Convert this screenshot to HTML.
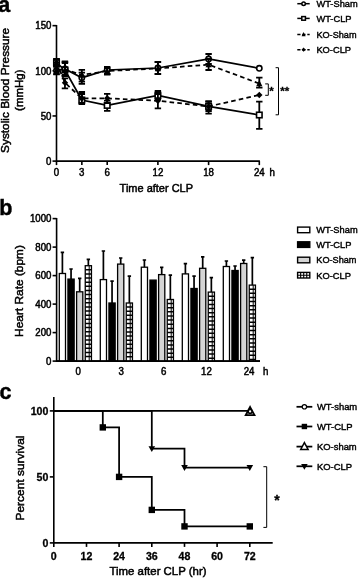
<!DOCTYPE html>
<html><head><meta charset="utf-8"><title>Figure</title>
<style>
html,body{margin:0;padding:0;background:#fff;}
body{width:358px;height:579px;overflow:hidden;font-family:"Liberation Sans",sans-serif;}
svg{display:block;filter:grayscale(1);}
text{font-family:"Liberation Sans",sans-serif;fill:#000;stroke:#000;stroke-width:0.42px;}
.ttl{stroke-width:0.5px;}
.tk{stroke-width:0.5px;}
.bt{stroke-width:0.3px;}
.ax{stroke:#000;stroke-width:1.6;fill:none;}
.eb2{stroke:#000;stroke-width:1.7;fill:none;}
.eb{stroke:#000;stroke-width:1.8;fill:none;}
.ln{stroke:#000;stroke-width:1.75;fill:none;}
.ln2{stroke:#000;stroke-width:1.75;fill:none;}
.br{stroke:#000;stroke-width:1.0;fill:none;}
</style></head><body>
<svg width="358" height="579" viewBox="0 0 358 579">
<rect width="358" height="579" fill="#fff"/>
<g id="pa">
<text x="-1.8" y="12.1" font-size="21.5" text-anchor="start" font-weight="bold" >a</text>
<path d="M56.5,25.049999999999976 V161.1 H259.9" class="ax"/>
<path d="M52.5,161.1 H56.5" class="ax"/>
<text transform="translate(51.4,164.8) scale(0.93,1)" font-size="10.4" text-anchor="end"  class="tk">0</text>
<path d="M52.5,115.94999999999999 H56.5" class="ax"/>
<text transform="translate(51.4,119.6) scale(0.93,1)" font-size="10.4" text-anchor="end"  class="tk">50</text>
<path d="M52.5,70.8 H56.5" class="ax"/>
<text transform="translate(51.4,74.5) scale(0.93,1)" font-size="10.4" text-anchor="end"  class="tk">100</text>
<path d="M52.5,25.649999999999977 H56.5" class="ax"/>
<text transform="translate(51.4,29.3) scale(0.93,1)" font-size="10.4" text-anchor="end"  class="tk">150</text>
<path d="M56.5,161.1 V165.1" class="ax"/>
<text transform="translate(56.5,176.4) scale(0.93,1)" font-size="10.4" text-anchor="middle"  class="tk">0</text>
<path d="M81.85,161.1 V165.1" class="ax"/>
<text transform="translate(81.8,176.4) scale(0.93,1)" font-size="10.4" text-anchor="middle"  class="tk">3</text>
<path d="M107.19999999999999,161.1 V165.1" class="ax"/>
<text transform="translate(107.2,176.4) scale(0.93,1)" font-size="10.4" text-anchor="middle"  class="tk">6</text>
<path d="M157.89999999999998,161.1 V165.1" class="ax"/>
<text transform="translate(157.9,176.4) scale(0.93,1)" font-size="10.4" text-anchor="middle"  class="tk">12</text>
<path d="M208.6,161.1 V165.1" class="ax"/>
<text transform="translate(208.6,176.4) scale(0.93,1)" font-size="10.4" text-anchor="middle"  class="tk">18</text>
<path d="M259.29999999999995,161.1 V165.1" class="ax"/>
<text transform="translate(259.3,176.4) scale(0.93,1)" font-size="10.4" text-anchor="middle"  class="tk">24</text>
<text transform="translate(272.3,176.4) scale(0.93,1)" font-size="10.4" text-anchor="middle"  class="tk">h</text>
<text class="ttl" x="156.3" y="192.2" font-size="11.5" text-anchor="middle" textLength="73.4" lengthAdjust="spacingAndGlyphs">Time after CLP</text>
<text class="ttl" transform="translate(8.9,90.4) rotate(-90)" font-size="11.75" text-anchor="middle" textLength="125" lengthAdjust="spacingAndGlyphs">Systolic Blood Pressure</text>
<text class="ttl" transform="translate(22.6,90.2) rotate(-90)" font-size="11.75" text-anchor="middle" textLength="41.5" lengthAdjust="spacingAndGlyphs">(mmHg)</text>
<path d="M56.5,66 V74.3 M53.30,66 H59.70 M53.30,74.3 H59.70" class="eb"/>
<path d="M64.95,61.5 V76 M61.75,61.5 H68.15 M61.75,76 H68.15" class="eb"/>
<path d="M81.85,69.9 V83.8 M78.65,69.9 H85.05 M78.65,83.8 H85.05" class="eb"/>
<path d="M107.19999999999999,67 V74 M104.00,67 H110.40 M104.00,74 H110.40" class="eb"/>
<path d="M157.89999999999998,62 V74 M154.70,62 H161.10 M154.70,74 H161.10" class="eb"/>
<path d="M208.6,54 V64 M205.40,54 H211.80 M205.40,64 H211.80" class="eb"/>
<path d="M56.5,70.5 L65.0,69 L81.8,77.7 L107.2,70 L157.9,68 L208.6,59 L259.3,68.3" class="ln" />
<circle cx="56.5" cy="70.5" r="2.65" fill="#fff" stroke="#000" stroke-width="1.6"/>
<circle cx="65.0" cy="69" r="2.65" fill="#fff" stroke="#000" stroke-width="1.6"/>
<circle cx="81.8" cy="77.7" r="2.65" fill="#fff" stroke="#000" stroke-width="1.6"/>
<circle cx="107.2" cy="70" r="2.65" fill="#fff" stroke="#000" stroke-width="1.6"/>
<circle cx="157.9" cy="68" r="2.65" fill="#fff" stroke="#000" stroke-width="1.6"/>
<circle cx="208.6" cy="59" r="2.65" fill="#fff" stroke="#000" stroke-width="1.6"/>
<circle cx="259.3" cy="68.3" r="2.65" fill="#fff" stroke="#000" stroke-width="1.6"/>
<path d="M56.5,59 V66.5 M53.30,59 H59.70 M53.30,66.5 H59.70" class="eb"/>
<path d="M64.95,63 V76 M61.75,63 H68.15 M61.75,76 H68.15" class="eb"/>
<path d="M81.85,94 V104 M78.65,94 H85.05 M78.65,104 H85.05" class="eb"/>
<path d="M107.19999999999999,100.6 V110.8 M104.00,100.6 H110.40 M104.00,110.8 H110.40" class="eb"/>
<path d="M157.89999999999998,91 V99 M154.70,91 H161.10 M154.70,99 H161.10" class="eb"/>
<path d="M208.6,101.5 V111 M205.40,101.5 H211.80 M205.40,111 H211.80" class="eb"/>
<path d="M259.29999999999995,101.6 V128.8 M256.10,101.6 H262.50 M256.10,128.8 H262.50" class="eb"/>
<path d="M56.5,62.8 L65.0,70 L81.8,100 L107.2,105.4 L157.9,95.3 L208.6,106.4 L259.3,115" class="ln" />
<rect x="53.75" y="60.05" width="5.50" height="5.50" fill="#fff" stroke="#000" stroke-width="1.6"/>
<rect x="62.25" y="67.25" width="5.50" height="5.50" fill="#fff" stroke="#000" stroke-width="1.6"/>
<rect x="79.05" y="97.25" width="5.50" height="5.50" fill="#fff" stroke="#000" stroke-width="1.6"/>
<rect x="104.45" y="102.65" width="5.50" height="5.50" fill="#fff" stroke="#000" stroke-width="1.6"/>
<rect x="155.15" y="92.55" width="5.50" height="5.50" fill="#fff" stroke="#000" stroke-width="1.6"/>
<rect x="205.85" y="103.65" width="5.50" height="5.50" fill="#fff" stroke="#000" stroke-width="1.6"/>
<rect x="256.55" y="112.25" width="5.50" height="5.50" fill="#fff" stroke="#000" stroke-width="1.6"/>
<path d="M56.5,65 V74 M53.30,65 H59.70 M53.30,74 H59.70" class="eb"/>
<path d="M64.95,62 V75 M61.75,62 H68.15 M61.75,75 H68.15" class="eb"/>
<path d="M81.85,72.7 V81.6 M78.65,72.7 H85.05 M78.65,81.6 H85.05" class="eb"/>
<path d="M107.19999999999999,68 V74.5 M104.00,68 H110.40 M104.00,74.5 H110.40" class="eb"/>
<path d="M157.89999999999998,62 V74 M154.70,62 H161.10 M154.70,74 H161.10" class="eb"/>
<path d="M208.6,59 V70 M205.40,59 H211.80 M205.40,70 H211.80" class="eb"/>
<path d="M259.29999999999995,77.6 V87.6 M256.10,77.6 H262.50 M256.10,87.6 H262.50" class="eb"/>
<path d="M56.5,70 L65.0,69.5 L81.8,75 L107.2,71 L157.9,68.5 L208.6,64.6 L259.3,83.6" class="ln" stroke-dasharray="4.6 3.2"/>
<path d="M56.5,66.50 L59.60,72.70 H53.40 Z" fill="#000"/>
<path d="M65.0,66.00 L68.10,72.20 H61.90 Z" fill="#000"/>
<path d="M81.8,71.50 L84.90,77.70 H78.70 Z" fill="#000"/>
<path d="M107.2,67.50 L110.30,73.70 H104.10 Z" fill="#000"/>
<path d="M157.9,65.00 L161.00,71.20 H154.80 Z" fill="#000"/>
<path d="M208.6,61.10 L211.70,67.30 H205.50 Z" fill="#000"/>
<path d="M259.3,80.10 L262.40,86.30 H256.20 Z" fill="#000"/>
<path d="M56.5,59 V66.5 M53.30,59 H59.70 M53.30,66.5 H59.70" class="eb"/>
<path d="M64.95,78.3 V88.3 M61.75,78.3 H68.15 M61.75,88.3 H68.15" class="eb"/>
<path d="M81.85,92 V103.5 M78.65,92 H85.05 M78.65,103.5 H85.05" class="eb"/>
<path d="M107.19999999999999,93.9 V103 M104.00,93.9 H110.40 M104.00,103 H110.40" class="eb"/>
<path d="M157.89999999999998,94 V108.4 M154.70,94 H161.10 M154.70,108.4 H161.10" class="eb"/>
<path d="M208.6,101.5 V113.7 M205.40,101.5 H211.80 M205.40,113.7 H211.80" class="eb"/>
<path d="M56.5,62.8 L65.0,82.7 L81.8,98.5 L107.2,98.3 L157.9,100.8 L208.6,106.4 L259.3,95" class="ln" stroke-dasharray="4.6 3.2"/>
<path d="M56.5,59.60 L59.70,62.8 L56.5,66.00 L53.30,62.8 Z" fill="#000"/>
<path d="M65.0,79.50 L68.20,82.7 L65.0,85.90 L61.80,82.7 Z" fill="#000"/>
<path d="M81.8,95.30 L85.00,98.5 L81.8,101.70 L78.60,98.5 Z" fill="#000"/>
<path d="M107.2,95.10 L110.40,98.3 L107.2,101.50 L104.00,98.3 Z" fill="#000"/>
<path d="M157.9,97.60 L161.10,100.8 L157.9,104.00 L154.70,100.8 Z" fill="#000"/>
<path d="M208.6,103.20 L211.80,106.4 L208.6,109.60 L205.40,106.4 Z" fill="#000"/>
<path d="M259.3,91.80 L262.50,95 L259.3,98.20 L256.10,95 Z" fill="#000"/>
<path d="M265.2,83.9 H268.3 V95.3 H265.2" class="br"/>
<path d="M275.6,67.7 H278.5 V114.8 H275.6" class="br"/>
<text x="271.6" y="95.0" font-size="11.5" text-anchor="middle" font-weight="bold" class="bt">*</text>
<text x="284.7" y="95.0" font-size="11.5" text-anchor="middle" font-weight="bold" class="bt">**</text>
<path d="M297.3,3.7 H309.7" class="ln" style="stroke-width:1.5" />
<circle cx="303.6" cy="3.7" r="1.75" fill="#fff" stroke="#000" stroke-width="1.5"/>
<text transform="translate(316.4,7.0) scale(0.95,1)" font-size="9.8" text-anchor="start"  >WT-Sham</text>
<path d="M297.3,18.4 H309.7" class="ln" style="stroke-width:1.5" />
<rect x="301.79" y="16.58" width="3.63" height="3.63" fill="#fff" stroke="#000" stroke-width="1.5"/>
<text transform="translate(316.4,21.7) scale(0.95,1)" font-size="9.8" text-anchor="start"  >WT-CLP</text>
<path d="M297.3,34.4 H309.7" class="ln" style="stroke-width:1.5" stroke-dasharray="3.2 1.8"/>
<path d="M303.6,32.09 L305.65,36.18 H301.55 Z" fill="#000"/>
<text transform="translate(316.4,37.699999999999996) scale(0.935,1)" font-size="9.8" text-anchor="start"  >KO-Sham</text>
<path d="M297.3,49.7 H309.7" class="ln" style="stroke-width:1.5" stroke-dasharray="3.2 1.8"/>
<path d="M303.6,47.59 L305.71,49.7 L303.6,51.81 L301.49,49.7 Z" fill="#000"/>
<text transform="translate(316.4,53.0) scale(0.95,1)" font-size="9.8" text-anchor="start"  >KO-CLP</text>
</g>
<g id="pb">
<text x="-0.7" y="215.4" font-size="21.5" text-anchor="start" font-weight="bold" >b</text>
<path d="M56.6,218.00000000000003 V361.1 H260" class="ax"/>
<path d="M52.6,361.1 H56.6" class="ax"/>
<text transform="translate(51.4,364.8) scale(0.93,1)" font-size="10.4" text-anchor="end"  class="tk">0</text>
<path d="M52.6,332.6 H56.6" class="ax"/>
<text transform="translate(51.4,336.3) scale(0.93,1)" font-size="10.4" text-anchor="end"  class="tk">200</text>
<path d="M52.6,304.1 H56.6" class="ax"/>
<text transform="translate(51.4,307.8) scale(0.93,1)" font-size="10.4" text-anchor="end"  class="tk">400</text>
<path d="M52.6,275.6 H56.6" class="ax"/>
<text transform="translate(51.4,279.3) scale(0.93,1)" font-size="10.4" text-anchor="end"  class="tk">600</text>
<path d="M52.6,247.1 H56.6" class="ax"/>
<text transform="translate(51.4,250.8) scale(0.93,1)" font-size="10.4" text-anchor="end"  class="tk">800</text>
<path d="M52.6,218.6 H56.6" class="ax"/>
<text transform="translate(51.4,222.3) scale(0.93,1)" font-size="10.4" text-anchor="end"  class="tk">1000</text>
<text transform="translate(78.2,375.0) scale(0.93,1)" font-size="10.4" text-anchor="middle"  class="tk">0</text>
<text transform="translate(121.2,375.0) scale(0.93,1)" font-size="10.4" text-anchor="middle"  class="tk">3</text>
<text transform="translate(163.8,375.0) scale(0.93,1)" font-size="10.4" text-anchor="middle"  class="tk">6</text>
<text transform="translate(206.4,375.0) scale(0.93,1)" font-size="10.4" text-anchor="middle"  class="tk">12</text>
<text transform="translate(249,375.0) scale(0.93,1)" font-size="10.4" text-anchor="middle"  class="tk">24</text>
<text transform="translate(265.8,375.0) scale(0.93,1)" font-size="10.4" text-anchor="middle"  class="tk">h</text>
<text class="ttl" transform="translate(23.2,291) rotate(-90)" font-size="11.75" text-anchor="middle" textLength="91.8" lengthAdjust="spacingAndGlyphs">Heart Rate (bpm)</text>
<defs><pattern id="chk" width="2.3" height="2.75" patternUnits="userSpaceOnUse" x="0" y="0"><rect width="2.3" height="2.75" fill="#fff"/><path d="M0,0 V2.75 M0,0 H2.3" stroke="#000" stroke-width="0.9" fill="none"/></pattern></defs>
<path d="M62.40,273.5 V252.3 M60.70,252.3 H64.10" class="eb2"/>
<rect x="59.30" y="273.5" width="6.2" height="87.6" fill="#fff" stroke="#000" stroke-width="1.3"/>
<path d="M71.05,279.1 V269 M69.35,269 H72.75" class="eb2"/>
<rect x="67.95" y="279.1" width="6.2" height="82.0" fill="#000" stroke="#000" stroke-width="1.3"/>
<path d="M79.70,291.8 V278.4 M78.00,278.4 H81.40" class="eb2"/>
<rect x="76.60" y="291.8" width="6.2" height="69.3" fill="#d5d5d5" stroke="#000" stroke-width="1.3"/>
<path d="M88.35,265.7 V259.4 M86.65,259.4 H90.05" class="eb2"/>
<rect x="85.25" y="265.7" width="6.2" height="95.4" fill="#fff" stroke="#000" stroke-width="1.3"/>
<path d="M89.20,265.7 V361.1 " stroke="#000" stroke-width="1.0" fill="none"/>
<path d="M85.25,269.80 H91.45 M85.25,273.93 H91.45 M85.25,278.06 H91.45 M85.25,282.19 H91.45 M85.25,286.32 H91.45 M85.25,290.45 H91.45 M85.25,294.58 H91.45 M85.25,298.71 H91.45 M85.25,302.84 H91.45 M85.25,306.97 H91.45 M85.25,311.10 H91.45 M85.25,315.23 H91.45 M85.25,319.36 H91.45 M85.25,323.49 H91.45 M85.25,327.62 H91.45 M85.25,331.75 H91.45 M85.25,335.88 H91.45 M85.25,340.01 H91.45 M85.25,344.14 H91.45 M85.25,348.27 H91.45 M85.25,352.40 H91.45 M85.25,356.53 H91.45 " stroke="#000" stroke-width="1.5" fill="none"/>
<path d="M103.40,279.6 V251 M101.70,251 H105.10" class="eb2"/>
<rect x="100.30" y="279.6" width="6.2" height="81.5" fill="#fff" stroke="#000" stroke-width="1.3"/>
<path d="M112.05,303 V281.2 M110.35,281.2 H113.75" class="eb2"/>
<rect x="108.95" y="303" width="6.2" height="58.1" fill="#000" stroke="#000" stroke-width="1.3"/>
<path d="M120.70,264.1 V258 M119.00,258 H122.40" class="eb2"/>
<rect x="117.60" y="264.1" width="6.2" height="97.0" fill="#d5d5d5" stroke="#000" stroke-width="1.3"/>
<path d="M129.35,303 V276.1 M127.65,276.1 H131.05" class="eb2"/>
<rect x="126.25" y="303" width="6.2" height="58.1" fill="#fff" stroke="#000" stroke-width="1.3"/>
<path d="M130.20,303 V361.1 " stroke="#000" stroke-width="1.0" fill="none"/>
<path d="M126.25,307.10 H132.45 M126.25,311.23 H132.45 M126.25,315.36 H132.45 M126.25,319.49 H132.45 M126.25,323.62 H132.45 M126.25,327.75 H132.45 M126.25,331.88 H132.45 M126.25,336.01 H132.45 M126.25,340.14 H132.45 M126.25,344.27 H132.45 M126.25,348.40 H132.45 M126.25,352.53 H132.45 M126.25,356.66 H132.45 " stroke="#000" stroke-width="1.5" fill="none"/>
<path d="M144.40,267.2 V260 M142.70,260 H146.10" class="eb2"/>
<rect x="141.30" y="267.2" width="6.2" height="93.9" fill="#fff" stroke="#000" stroke-width="1.3"/>
<rect x="149.95" y="280.1" width="6.2" height="81.0" fill="#000" stroke="#000" stroke-width="1.3"/>
<path d="M161.70,274.6 V267.4 M160.00,267.4 H163.40" class="eb2"/>
<rect x="158.60" y="274.6" width="6.2" height="86.5" fill="#d5d5d5" stroke="#000" stroke-width="1.3"/>
<path d="M170.35,299.5 V275.2 M168.65,275.2 H172.05" class="eb2"/>
<rect x="167.25" y="299.5" width="6.2" height="61.6" fill="#fff" stroke="#000" stroke-width="1.3"/>
<path d="M171.20,299.5 V361.1 " stroke="#000" stroke-width="1.0" fill="none"/>
<path d="M167.25,303.60 H173.45 M167.25,307.73 H173.45 M167.25,311.86 H173.45 M167.25,315.99 H173.45 M167.25,320.12 H173.45 M167.25,324.25 H173.45 M167.25,328.38 H173.45 M167.25,332.51 H173.45 M167.25,336.64 H173.45 M167.25,340.77 H173.45 M167.25,344.90 H173.45 M167.25,349.03 H173.45 M167.25,353.16 H173.45 M167.25,357.29 H173.45 " stroke="#000" stroke-width="1.5" fill="none"/>
<path d="M185.40,273.9 V263.6 M183.70,263.6 H187.10" class="eb2"/>
<rect x="182.30" y="273.9" width="6.2" height="87.2" fill="#fff" stroke="#000" stroke-width="1.3"/>
<path d="M194.05,288.5 V276.2 M192.35,276.2 H195.75" class="eb2"/>
<rect x="190.95" y="288.5" width="6.2" height="72.6" fill="#000" stroke="#000" stroke-width="1.3"/>
<path d="M202.70,268.3 V256.9 M201.00,256.9 H204.40" class="eb2"/>
<rect x="199.60" y="268.3" width="6.2" height="92.8" fill="#d5d5d5" stroke="#000" stroke-width="1.3"/>
<path d="M211.35,292.1 V277.7 M209.65,277.7 H213.05" class="eb2"/>
<rect x="208.25" y="292.1" width="6.2" height="69.0" fill="#fff" stroke="#000" stroke-width="1.3"/>
<path d="M212.20,292.1 V361.1 " stroke="#000" stroke-width="1.0" fill="none"/>
<path d="M208.25,296.20 H214.45 M208.25,300.33 H214.45 M208.25,304.46 H214.45 M208.25,308.59 H214.45 M208.25,312.72 H214.45 M208.25,316.85 H214.45 M208.25,320.98 H214.45 M208.25,325.11 H214.45 M208.25,329.24 H214.45 M208.25,333.37 H214.45 M208.25,337.50 H214.45 M208.25,341.63 H214.45 M208.25,345.76 H214.45 M208.25,349.89 H214.45 M208.25,354.02 H214.45 M208.25,358.15 H214.45 " stroke="#000" stroke-width="1.5" fill="none"/>
<path d="M226.40,266.5 V261 M224.70,261 H228.10" class="eb2"/>
<rect x="223.30" y="266.5" width="6.2" height="94.6" fill="#fff" stroke="#000" stroke-width="1.3"/>
<path d="M235.05,270.5 V266 M233.35,266 H236.75" class="eb2"/>
<rect x="231.95" y="270.5" width="6.2" height="90.6" fill="#000" stroke="#000" stroke-width="1.3"/>
<path d="M243.70,263.5 V260.2 M242.00,260.2 H245.40" class="eb2"/>
<rect x="240.60" y="263.5" width="6.2" height="97.6" fill="#d5d5d5" stroke="#000" stroke-width="1.3"/>
<path d="M252.35,285.1 V257.7 M250.65,257.7 H254.05" class="eb2"/>
<rect x="249.25" y="285.1" width="6.2" height="76.0" fill="#fff" stroke="#000" stroke-width="1.3"/>
<path d="M253.20,285.1 V361.1 " stroke="#000" stroke-width="1.0" fill="none"/>
<path d="M249.25,289.20 H255.45 M249.25,293.33 H255.45 M249.25,297.46 H255.45 M249.25,301.59 H255.45 M249.25,305.72 H255.45 M249.25,309.85 H255.45 M249.25,313.98 H255.45 M249.25,318.11 H255.45 M249.25,322.24 H255.45 M249.25,326.37 H255.45 M249.25,330.50 H255.45 M249.25,334.63 H255.45 M249.25,338.76 H255.45 M249.25,342.89 H255.45 M249.25,347.02 H255.45 M249.25,351.15 H255.45 M249.25,355.28 H255.45 M249.25,359.41 H255.45 " stroke="#000" stroke-width="1.5" fill="none"/>
<path d="M56.6,361.1 H260" class="ax"/>
<rect x="297.6" y="227.1" width="12.2" height="5.6" fill="#fff" stroke="#000" stroke-width="1.4"/>
<text transform="translate(316.3,233.20000000000002) scale(0.95,1)" font-size="9.8" text-anchor="start"  >WT-Sham</text>
<rect x="297.6" y="241.79999999999998" width="12.2" height="5.6" fill="#000" stroke="#000" stroke-width="1.4"/>
<text transform="translate(316.3,247.9) scale(0.95,1)" font-size="9.8" text-anchor="start"  >WT-CLP</text>
<rect x="297.6" y="257.2" width="12.2" height="5.6" fill="#d5d5d5" stroke="#000" stroke-width="1.4"/>
<text transform="translate(316.3,263.3) scale(0.935,1)" font-size="9.8" text-anchor="start"  >KO-Sham</text>
<rect x="297.6" y="272.4" width="12.2" height="5.6" fill="#fff" stroke="#000" stroke-width="1.4"/>
<path d="M297.6,275.2 H309.8 M300.65000000000003,272.4 V278.0 M303.70000000000005,272.4 V278.0 M306.75,272.4 V278.0 " stroke="#000" stroke-width="1.1" fill="none"/>
<text transform="translate(316.3,278.5) scale(0.95,1)" font-size="9.8" text-anchor="start"  >KO-CLP</text>
</g>
<g id="pc">
<text x="-0.6" y="398.8" font-size="21.5" text-anchor="start" font-weight="bold" >c</text>
<path d="M53.8,397 V542.9 H272.7" class="ax"/>
<path d="M49.8,542.9 H53.8" class="ax"/>
<text x="48.4" y="546.7" font-size="10.6" text-anchor="end" font-weight="bold" class="bt">0</text>
<path d="M49.8,476.9 H53.8" class="ax"/>
<text x="48.4" y="480.7" font-size="10.6" text-anchor="end" font-weight="bold" class="bt">50</text>
<path d="M49.8,410.9 H53.8" class="ax"/>
<text x="48.4" y="414.7" font-size="10.6" text-anchor="end" font-weight="bold" class="bt">100</text>
<path d="M53.8,542.9 V546.9" class="ax"/>
<text x="53.8" y="559.8" font-size="10.6" text-anchor="middle" font-weight="bold" class="bt">0</text>
<path d="M86.5,542.9 V546.9" class="ax"/>
<text x="86.5" y="559.8" font-size="10.6" text-anchor="middle" font-weight="bold" class="bt">12</text>
<path d="M119.1,542.9 V546.9" class="ax"/>
<text x="119.1" y="559.8" font-size="10.6" text-anchor="middle" font-weight="bold" class="bt">24</text>
<path d="M151.8,542.9 V546.9" class="ax"/>
<text x="151.8" y="559.8" font-size="10.6" text-anchor="middle" font-weight="bold" class="bt">36</text>
<path d="M184.5,542.9 V546.9" class="ax"/>
<text x="184.5" y="559.8" font-size="10.6" text-anchor="middle" font-weight="bold" class="bt">48</text>
<path d="M217.1,542.9 V546.9" class="ax"/>
<text x="217.1" y="559.8" font-size="10.6" text-anchor="middle" font-weight="bold" class="bt">60</text>
<path d="M249.8,542.9 V546.9" class="ax"/>
<text x="249.8" y="559.8" font-size="10.6" text-anchor="middle" font-weight="bold" class="bt">72</text>
<text class="ttl" x="158" y="575.2" font-size="11.5" text-anchor="middle" textLength="97" lengthAdjust="spacingAndGlyphs">Time after CLP (hr)</text>
<text class="ttl" transform="translate(24.2,478) rotate(-90)" font-size="11.75" text-anchor="middle" textLength="85" lengthAdjust="spacingAndGlyphs">Percent survival</text>
<path d="M53.8,410.9 H249.8" class="ln2"/>
<path d="M53.8,410.9 H102.8 V427.4 H119.1 V476.9 H151.8 V509.9 H184.5 V526.4 H249.8" class="ln2"/>
<path d="M53.8,410.9 H151.8 V448.7 H184.5 V467.5 H249.8" class="ln2"/>
<rect x="99.6" y="424.2" width="6.4" height="6.4" fill="#000"/>
<rect x="115.9" y="473.7" width="6.4" height="6.4" fill="#000"/>
<rect x="148.6" y="506.7" width="6.4" height="6.4" fill="#000"/>
<rect x="181.3" y="523.2" width="6.4" height="6.4" fill="#000"/>
<rect x="246.6" y="523.2" width="6.4" height="6.4" fill="#000"/>
<path d="M148.5,446.3 H155.1 L151.8,452.1 Z" fill="#000"/>
<path d="M181.2,465.1 H187.8 L184.5,470.9 Z" fill="#000"/>
<path d="M246.5,465.1 H253.1 L249.8,470.9 Z" fill="#000"/>
<path d="M250.1,407.1 L254.4,415.1 H245.8 Z" fill="#fff" stroke="#000" stroke-width="1.9" stroke-linejoin="miter"/>
<circle cx="250.1" cy="411.4" r="1.9" fill="#fff" stroke="#000" stroke-width="1.5"/>
<path d="M263.4,466.7 H266.7 V527.4 H263.4" class="br"/>
<text x="277" y="504.6" font-size="14" text-anchor="middle" font-weight="bold" class="bt">*</text>
<path d="M296.5,406.8 H312.3" class="ln2"/>
<circle cx="304.4" cy="406.8" r="2.2" fill="#fff" stroke="#000" stroke-width="1.2"/>
<text transform="translate(317.0,410.1) scale(0.96,1)" font-size="9.8" text-anchor="start"  >WT-sham</text>
<path d="M296.5,426.5 H312.3" class="ln2"/>
<rect x="301.7" y="423.8" width="5.4" height="5.4" fill="#000"/>
<text transform="translate(317.0,429.8) scale(0.96,1)" font-size="9.8" text-anchor="start"  >WT-CLP</text>
<path d="M296.5,446.6 H312.3" class="ln2"/>
<path d="M304.4,442.6 L308.1,449.4 H300.7 Z" fill="#fff" stroke="#000" stroke-width="1.5" stroke-linejoin="miter"/>
<text transform="translate(317.0,449.90000000000003) scale(0.96,1)" font-size="9.8" text-anchor="start"  >KO-sham</text>
<path d="M296.5,466.3 H312.3" class="ln2"/>
<path d="M301.1,463.9 H307.7 L304.4,469.7 Z" fill="#000"/>
<text transform="translate(317.0,469.6) scale(0.96,1)" font-size="9.8" text-anchor="start"  >KO-CLP</text>
</g>
</svg>
</body></html>
